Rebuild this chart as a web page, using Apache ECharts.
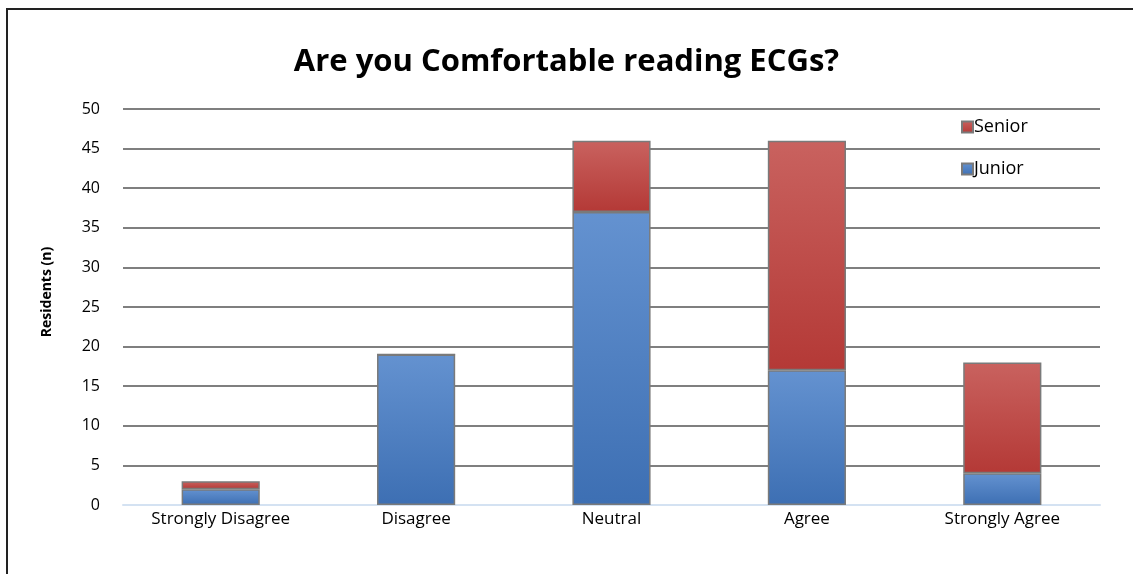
<!DOCTYPE html>
<html>
<head>
<meta charset="utf-8">
<script src="https://cdn.jsdelivr.net/npm/echarts@6/dist/echarts.min.js"></script>
<style>
  html, body { margin: 0; padding: 0; background: #fff; }
  #chart { width: 1133px; height: 574px; }
</style>
</head>
<body>
<div id="chart"></div>
<script>
// DATA
var categories = ['Strongly Disagree', 'Disagree', 'Neutral', 'Agree', 'Strongly Agree'];
var junior = [2, 19, 37, 17, 4];
var senior = [1, 0, 9, 29, 14];
var yTicks = { min: 0, max: 50, interval: 5 };

var FONT = '"Open Sans", "Noto Sans", sans-serif';

function grad(top, bottom) {
    return new echarts.graphic.LinearGradient(0, 0, 0, 1, [
        { offset: 0, color: top },
        { offset: 1, color: bottom }
    ]);
}

var myChart = echarts.init(document.getElementById('chart'));

var option = {
    backgroundColor: '#fff',
    animation: false,
    title: {
        text: 'Are you Comfortable reading ECGs?',
        left: 'center',
        top: 42,
        textStyle: { fontFamily: FONT, fontSize: 31, fontWeight: 'bold', color: '#000' }
    },
    graphic: [{
        type: 'rect',
        shape: { x: 7, y: 9, width: 1140, height: 600 },
        style: { fill: 'none', stroke: '#222', lineWidth: 2 },
        silent: true
    }, {
        // y axis title
        type: 'text',
        x: 47,
        y: 292,
        rotation: Math.PI / 2,
        style: {
            text: 'Residents (n)',
            fontFamily: FONT, fontSize: 14, fontWeight: 'bold', fill: '#000',
            align: 'center', verticalAlign: 'middle'
        },
        silent: true
    }],
    legend: {
        orient: 'vertical',
        left: 956,
        top: 113,
        itemGap: 24,
        itemWidth: 11,
        itemHeight: 11,
        icon: 'rect',
        data: ['Senior', 'Junior'],
        textStyle: { fontFamily: FONT, fontSize: 18, color: '#000', padding: [0, 0, 0, -4] }
    },
    grid: { left: 123, right: 33, top: 109, bottom: 69 },
    xAxis: {
        type: 'category',
        data: categories,
        axisLine: { show: true, lineStyle: { color: '#d4e2f2', width: 2 } },
        axisTick: { show: false },
        axisLabel: { fontFamily: FONT, fontSize: 17, color: '#000', margin: 6 }
    },
    yAxis: {
        type: 'value',
        min: yTicks.min,
        max: yTicks.max,
        interval: yTicks.interval,
        axisLine: { show: false },
        axisTick: { show: false },
        axisLabel: { fontFamily: FONT, fontSize: 16, color: '#000', margin: 23 },
        splitLine: { lineStyle: { color: '#7f7f7f', width: 2 } }
    },
    series: [{
        name: 'Junior',
        type: 'bar',
        stack: 'total',
        barWidth: '40%',
        data: junior,
        itemStyle: { color: grad('#6492d0', '#3d6fb3'), borderColor: '#7a7a7a', borderWidth: 1.5 }
    }, {
        name: 'Senior',
        type: 'bar',
        stack: 'total',
        barWidth: '40%',
        data: senior,
        itemStyle: { color: grad('#c9625f', '#b43936'), borderColor: '#7a7a7a', borderWidth: 1.5 }
    }]
};
myChart.setOption(option);
</script>
</body>
</html>
